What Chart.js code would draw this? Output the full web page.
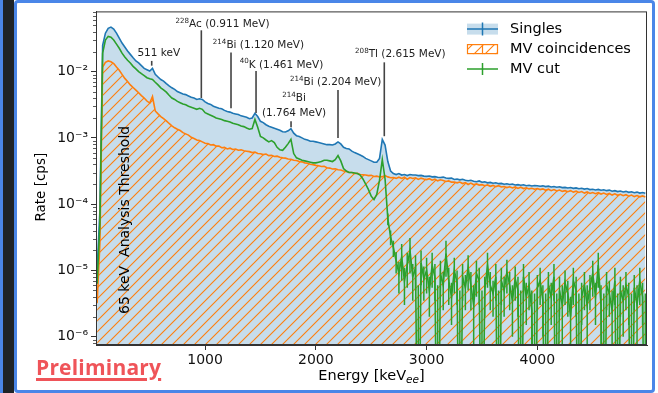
<!DOCTYPE html>
<html>
<head>
<meta charset="utf-8">
<script src="https://cdn.jsdelivr.net/npm/chart.js@4.4.0/dist/chart.umd.min.js"></script>
<style>
  html, body { margin: 0; padding: 0; background: #fff; }
  body { width: 658px; height: 393px; position: relative; overflow: hidden; }
  #edge { position: absolute; left: 0; top: 0; width: 3px; height: 393px; background: #4a86e8; }
  #gutter { position: absolute; left: 3px; top: 0; width: 11px; height: 393px; background: #1e2327; }
  #frame { position: absolute; left: 14px; top: 0; width: 641px; height: 393px; box-sizing: border-box;
           border: 3px solid #4a86e8; border-radius: 4px; background: #fff; }
  #spectrum { position: absolute; left: 0; top: 0; }
  #prelim { position: absolute; left: 36px; top: 353px; font: 700 21px "Open Sans", sans-serif; color: #ef5459;
            text-decoration: underline; text-decoration-thickness: 3px; text-underline-offset: 3px; letter-spacing: 0.2px; }
</style>
</head>
<body>
<div id="edge"></div>
<div id="gutter"></div>
<div id="frame"></div>
<canvas id="spectrum" width="658" height="393"></canvas>
<div id="prelim">Preliminary</div>
<script>
// 25 keV bins, first bin centred at 25 keV
const binWidth = 25;

// rates in cps
const singles = [
  1.0e-5, 7.9e-5, 2.5e-2, 3.8e-2, 4.5e-2, 4.7e-2, 4.4e-2, 3.8e-2, 3.2e-2, 2.7e-2,
  2.35e-2, 2.05e-2, 1.82e-2, 1.62e-2, 1.45e-2, 1.35e-2, 1.23e-2, 1.12e-2, 1.07e-2, 1.02e-2,
  1.12e-2, 9.1e-3, 8.3e-3, 7.6e-3, 7.2e-3, 6.6e-3, 6.1e-3, 5.7e-3, 5.4e-3, 5.0e-3,
  4.8e-3, 4.6e-3, 4.5e-3, 4.3e-3, 4.1e-3, 4.0e-3, 3.8e-3, 3.9e-3, 3.8e-3, 3.5e-3,
  3.3e-3, 3.2e-3, 3.0e-3, 2.9e-3, 2.8e-3, 2.75e-3, 2.6e-3, 2.5e-3, 2.45e-3, 2.35e-3,
  2.3e-3, 2.25e-3, 2.15e-3, 2.1e-3, 2.05e-3, 1.95e-3, 2.0e-3, 2.35e-3, 2.1e-3, 1.78e-3,
  1.7e-3, 1.58e-3, 1.5e-3, 1.45e-3, 1.4e-3, 1.35e-3, 1.3e-3, 1.24e-3, 1.23e-3, 1.28e-3,
  1.38e-3, 1.18e-3, 1.08e-3, 1.05e-3, 1.0e-3, 9.5e-4, 9.3e-4, 8.9e-4, 8.9e-4, 8.7e-4,
  8.5e-4, 8.3e-4, 8.1e-4, 7.9e-4, 7.9e-4, 7.8e-4, 8.1e-4, 8.7e-4, 8.1e-4, 7.2e-4,
  6.9e-4, 6.8e-4, 6.3e-4, 6.0e-4, 5.75e-4, 5.5e-4, 5.25e-4, 4.9e-4, 4.7e-4, 4.5e-4,
  4.3e-4, 4.3e-4, 4.9e-4, 9.5e-4, 7.8e-4, 4.4e-4, 3.16e-4, 2.9e-4, 2.8e-4, 2.9e-4,
  2.75e-4, 2.8e-4, 2.7e-4, 2.8e-4, 2.75e-4, 2.75e-4, 2.7e-4, 2.72e-4, 2.65e-4, 2.63e-4,
  2.66e-4, 2.58e-4, 2.6e-4, 2.55e-4, 2.52e-4, 2.56e-4, 2.48e-4, 2.45e-4, 2.47e-4, 2.36e-4,
  2.4e-4, 2.33e-4, 2.37e-4, 2.3e-4, 2.26e-4, 2.29e-4, 2.22e-4, 2.18e-4, 2.24e-4, 2.14e-4,
  2.17e-4, 2.1e-4, 2.13e-4, 2.07e-4, 2.1e-4, 2.04e-4, 2.06e-4, 2.0e-4, 2.03e-4, 1.98e-4,
  2.01e-4, 1.95e-4, 1.97e-4, 1.93e-4, 1.96e-4, 1.9e-4, 1.93e-4, 1.88e-4, 1.91e-4, 1.9e-4,
  1.86e-4, 1.89e-4, 1.84e-4, 1.87e-4, 1.82e-4, 1.85e-4, 1.8e-4, 1.83e-4, 1.78e-4, 1.79e-4,
  1.75e-4, 1.78e-4, 1.73e-4, 1.76e-4, 1.71e-4, 1.74e-4, 1.69e-4, 1.72e-4, 1.66e-4, 1.68e-4,
  1.64e-4, 1.67e-4, 1.62e-4, 1.65e-4, 1.6e-4, 1.63e-4, 1.57e-4, 1.6e-4, 1.55e-4, 1.58e-4,
  1.53e-4, 1.56e-4, 1.51e-4, 1.54e-4, 1.49e-4, 1.52e-4, 1.47e-4, 1.5e-4, 1.46e-4
];

const mvCoincidences = [
  3.2e-6, 2.5e-5, 1.17e-2, 1.38e-2, 1.45e-2, 1.41e-2, 1.32e-2, 1.17e-2, 1.05e-2, 9.1e-3,
  7.9e-3, 7.1e-3, 6.3e-3, 5.75e-3, 5.25e-3, 4.8e-3, 4.35e-3, 4.0e-3, 3.6e-3, 3.35e-3,
  4.2e-3, 2.55e-3, 2.3e-3, 2.1e-3, 1.95e-3, 1.8e-3, 1.65e-3, 1.52e-3, 1.42e-3, 1.35e-3,
  1.29e-3, 1.2e-3, 1.15e-3, 1.1e-3, 1.02e-3, 9.8e-4, 9.3e-4, 9.1e-4, 8.7e-4, 8.3e-4,
  8.2e-4, 7.8e-4, 7.9e-4, 7.5e-4, 7.5e-4, 7.1e-4, 7.2e-4, 6.8e-4, 7.0e-4, 6.7e-4,
  6.8e-4, 6.5e-4, 6.6e-4, 6.4e-4, 6.3e-4, 6.2e-4, 6.0e-4, 6.1e-4, 5.8e-4, 5.75e-4,
  5.6e-4, 5.7e-4, 5.4e-4, 5.45e-4, 5.25e-4, 5.3e-4, 5.1e-4, 5.0e-4, 4.95e-4, 4.8e-4,
  4.75e-4, 4.6e-4, 4.55e-4, 4.4e-4, 4.35e-4, 4.2e-4, 4.15e-4, 4.0e-4, 3.95e-4, 3.85e-4,
  3.8e-4, 3.7e-4, 3.72e-4, 3.55e-4, 3.5e-4, 3.4e-4, 3.42e-4, 3.3e-4, 3.28e-4, 3.16e-4,
  3.12e-4, 3.0e-4, 3.0e-4, 2.9e-4, 2.92e-4, 2.8e-4, 2.78e-4, 2.75e-4, 2.7e-4, 2.72e-4,
  2.62e-4, 2.65e-4, 2.57e-4, 2.6e-4, 2.7e-4, 2.58e-4, 2.5e-4, 2.52e-4, 2.45e-4, 2.55e-4,
  2.45e-4, 2.55e-4, 2.38e-4, 2.52e-4, 2.44e-4, 2.5e-4, 2.36e-4, 2.47e-4, 2.4e-4, 2.35e-4,
  2.42e-4, 2.3e-4, 2.38e-4, 2.25e-4, 2.33e-4, 2.28e-4, 2.2e-4, 2.24e-4, 2.15e-4, 2.16e-4,
  2.1e-4, 2.16e-4, 2.05e-4, 2.12e-4, 1.98e-4, 2.08e-4, 1.96e-4, 2.02e-4, 1.94e-4, 1.97e-4,
  1.9e-4, 1.95e-4, 1.86e-4, 1.92e-4, 1.84e-4, 1.9e-4, 1.82e-4, 1.85e-4, 1.78e-4, 1.83e-4,
  1.76e-4, 1.82e-4, 1.73e-4, 1.8e-4, 1.72e-4, 1.77e-4, 1.7e-4, 1.74e-4, 1.68e-4, 1.72e-4,
  1.66e-4, 1.7e-4, 1.62e-4, 1.68e-4, 1.6e-4, 1.66e-4, 1.58e-4, 1.63e-4, 1.56e-4, 1.6e-4,
  1.54e-4, 1.6e-4, 1.52e-4, 1.57e-4, 1.5e-4, 1.55e-4, 1.47e-4, 1.53e-4, 1.45e-4, 1.5e-4,
  1.44e-4, 1.49e-4, 1.42e-4, 1.47e-4, 1.4e-4, 1.45e-4, 1.37e-4, 1.43e-4, 1.36e-4, 1.41e-4,
  1.34e-4, 1.39e-4, 1.32e-4, 1.37e-4, 1.3e-4, 1.35e-4, 1.29e-4, 1.33e-4, 1.28e-4
];

// empty bins are 0
const mvCut = [
  6.3e-6, 5.0e-5, 1.9e-2, 3.0e-2, 3.4e-2, 3.3e-2, 3.0e-2, 2.6e-2, 2.25e-2, 1.9e-2,
  1.66e-2, 1.48e-2, 1.35e-2, 1.2e-2, 1.1e-2, 1.0e-2, 9.3e-3, 8.7e-3, 8.1e-3, 7.8e-3,
  7.6e-3, 6.9e-3, 6.3e-3, 5.7e-3, 5.3e-3, 4.9e-3, 4.4e-3, 4.0e-3, 3.8e-3, 3.55e-3,
  3.4e-3, 3.25e-3, 3.16e-3, 3.0e-3, 2.9e-3, 2.8e-3, 2.7e-3, 2.8e-3, 2.7e-3, 2.4e-3,
  2.3e-3, 2.2e-3, 2.1e-3, 2.0e-3, 1.95e-3, 1.9e-3, 1.82e-3, 1.78e-3, 1.74e-3, 1.66e-3,
  1.62e-3, 1.58e-3, 1.51e-3, 1.48e-3, 1.41e-3, 1.35e-3, 1.38e-3, 1.9e-3, 1.45e-3, 1.05e-3,
  1.0e-3, 9.3e-4, 8.7e-4, 9.1e-4, 8.5e-4, 7.2e-4, 6.6e-4, 6.5e-4, 7.2e-4, 8.2e-4,
  9.5e-4, 5.8e-4, 5.0e-4, 4.8e-4, 4.6e-4, 4.5e-4, 4.4e-4, 4.3e-4, 4.2e-4, 4.2e-4,
  4.3e-4, 4.4e-4, 4.6e-4, 4.6e-4, 4.5e-4, 4.4e-4, 4.7e-4, 5.4e-4, 4.5e-4, 3.45e-4,
  3.16e-4, 3.0e-4, 3.0e-4, 2.95e-4, 2.9e-4, 2.75e-4, 2.4e-4, 2.0e-4, 1.66e-4, 1.32e-4,
  1.17e-4, 1.4e-4, 2.3e-4, 4.7e-4, 2.4e-4, 6.0e-5, 3.2e-5, 2.2e-5, 1.4e-5, 9e-6,
  1.6e-5, 7e-6, 1.2e-5, 2.0e-5, 8e-6, 1.1e-5, 0, 1.3e-5, 7.5e-6, 1.0e-5,
  5e-6, 1.2e-5, 8e-6, 0, 9e-6, 6e-6, 1.8e-5, 7e-6, 4e-6, 1.0e-5,
  6.5e-6, 0, 8e-6, 5.5e-6, 1.1e-5, 6e-6, 3e-6, 9e-6, 7e-6, 0,
  5e-6, 1.2e-5, 6e-6, 4.5e-6, 8e-6, 0, 7e-6, 5e-6, 9.5e-6, 6e-6,
  3.5e-6, 7.5e-6, 5e-6, 0, 8e-6, 4e-6, 6e-6, 2.5e-6, 0, 5.5e-6,
  7e-6, 3.5e-6, 0, 6e-6, 4e-6, 8e-6, 0, 5e-6, 3e-6, 6.5e-6,
  4.5e-6, 2e-6, 7e-6, 5e-6, 0, 4e-6, 6e-6, 3e-6, 5.5e-6, 9e-6,
  4e-6, 1.2e-5, 3e-6, 0, 6e-6, 4.5e-6, 2.5e-6, 7e-6, 0, 5e-6,
  3.5e-6, 6e-6, 4e-6, 0, 5.5e-6, 3e-6, 7e-6, 4e-6, 0
];

// statistical errors on the MV cut tail (from the 2650 keV bin on), cps
const mvCutErrFrom = 105;
const mvCutErr = [
  1.2e-5, 8e-6, 6e-6, 5e-6, 4.5e-6,
  9e-6, 4e-6, 6.5e-6, 1.1e-5, 4.5e-6, 6e-6, 6e-6, 7e-6, 4e-6, 5.5e-6,
  3e-6, 6.5e-6, 4.5e-6, 6e-6, 5e-6, 3.5e-6, 1.0e-5, 4e-6, 2.5e-6, 5.5e-6,
  3.5e-6, 5e-6, 4.5e-6, 3e-6, 6e-6, 3.5e-6, 3e-6, 5e-6, 4e-6, 5e-6,
  3e-6, 6.5e-6, 3.5e-6, 2.5e-6, 4.5e-6, 5e-6, 4e-6, 3e-6, 5e-6, 3.5e-6,
  2.5e-6, 4e-6, 3e-6, 5e-6, 4.5e-6, 2.5e-6, 3.5e-6, 2.5e-6, 4.5e-6, 3e-6,
  4e-6, 2.5e-6, 4.5e-6, 3.5e-6, 2.5e-6, 4.5e-6, 4.5e-6, 3e-6, 3e-6, 3.5e-6,
  2.5e-6, 2e-6, 4e-6, 3e-6, 4.5e-6, 2.5e-6, 3.5e-6, 3e-6, 3e-6, 5e-6,
  2.5e-6, 6.5e-6, 3e-6, 4.5e-6, 3.5e-6, 2.5e-6, 2.5e-6, 4e-6, 4.5e-6, 3e-6,
  2.5e-6, 3.5e-6, 2.5e-6, 4.5e-6, 3e-6, 3e-6, 4e-6, 2.5e-6, 4.5e-6
];

const seriesNames = ['Singles', 'MV coincidences', 'MV cut'];
const xTicks = [1000, 2000, 3000, 4000];
const yTicks = [1e-6, 1e-5, 1e-4, 1e-3, 1e-2];

// gamma lines; '^' marks the mass number
const peakLabels = ['511 keV', '^228Ac (0.911 MeV)', '^214Bi (1.120 MeV)', '^40K (1.461 MeV)',
                    '^214Bi\n(1.764 MeV)', '^214Bi (2.204 MeV)', '^208Tl (2.615 MeV)'];
const peakKeV = [518, 966, 1234, 1460, 1776, 2200, 2618];

const energies = singles.map((_, i) => binWidth * (i + 1));

const BLUE = '#1f77b4', ORANGE = '#ff7f0e', GREEN = '#2ca02c';
const FONT = '"DejaVu Sans"';

function hatch(color) {
  const s = 11;
  const c = document.createElement('canvas');
  c.width = s; c.height = s;
  const g = c.getContext('2d');
  g.strokeStyle = color;
  g.lineWidth = 1.1;
  g.beginPath();
  g.moveTo(0, s); g.lineTo(s, 0);
  g.moveTo(-2, 2); g.lineTo(2, -2);
  g.moveTo(s - 2, s + 2); g.lineTo(s + 2, s - 2);
  g.stroke();
  return g.createPattern(c, 'repeat');
}
const orangeHatch = hatch(ORANGE);

function points(values) {
  // empty bins sit under the axis floor so the trace drops out of view
  return values.map((v, i) => ({ x: energies[i], y: v > 0 ? v : 1e-9 }));
}

function superscript(n) {
  const map = { '-': '\u207b', '0': '\u2070', '1': '\u00b9', '2': '\u00b2', '3': '\u00b3',
                '4': '\u2074', '5': '\u2075', '6': '\u2076', '7': '\u2077', '8': '\u2078', '9': '\u2079' };
  return String(n).split('').map(c => map[c]).join('');
}

function drawRich(ctx, text, cx, baseline, size, color) {
  const m = text.match(/^\^(\d+)(.*)$/);
  const parts = m ? [{ t: m[1], sup: true }, { t: m[2] }] : [{ t: text }];
  let total = 0;
  parts.forEach(p => {
    p.size = p.sup ? size * 0.68 : size;
    ctx.font = p.size + 'px ' + FONT;
    p.w = ctx.measureText(p.t).width;
    total += p.w;
  });
  let x = cx - total / 2;
  ctx.fillStyle = color;
  ctx.textAlign = 'left';
  ctx.textBaseline = 'alphabetic';
  parts.forEach(p => {
    ctx.font = p.size + 'px ' + FONT;
    ctx.fillText(p.t, x, p.sup ? baseline - size * 0.4 : baseline);
    x += p.w;
  });
}

// vertical error bars for the MV cut tail
const errorBars = {
  id: 'errorBars',
  afterDatasetsDraw(chart) {
    const { ctx, chartArea: a, scales: { x, y } } = chart;
    ctx.save();
    ctx.beginPath();
    ctx.rect(a.left, a.top, a.right - a.left, a.bottom - a.top);
    ctx.clip();
    ctx.strokeStyle = GREEN;
    ctx.lineWidth = 1.5;
    ctx.beginPath();
    mvCutErr.forEach((e, k) => {
      const i = mvCutErrFrom + k;
      const v = mvCut[i];
      const px = x.getPixelForValue(energies[i]);
      const lo = v - e > 0 ? y.getPixelForValue(v - e) : a.bottom;
      const hi = y.getPixelForValue(v + e);
      ctx.moveTo(px, lo);
      ctx.lineTo(px, hi);
    });
    ctx.stroke();
    ctx.restore();
  }
};

// text centre (keV, cps), pointer top and bottom (cps)
const noteLayout = [
  [582, 2.0e-2, 1.45e-2, 1.23e-2],
  [1157, 5.33e-2, 4.2e-2, 4.0e-3],
  [1482, 2.6e-2, 1.95e-2, 2.8e-3],
  [1690, 1.32e-2, 1.02e-2, 2.37e-3],
  [1803, 4.1e-3, 1.78e-3, 1.45e-3],
  [2179, 7.1e-3, 5.3e-3, 1.0e-3],
  [2763, 1.88e-2, 1.38e-2, 1.06e-3]
];

const decorations = {
  id: 'decorations',
  afterDraw(chart) {
    const { ctx, chartArea: a, scales: { x, y } } = chart;
    ctx.save();

    // frame
    ctx.strokeStyle = '#333';
    ctx.lineWidth = 1;
    ctx.strokeRect(a.left + 0.5, a.top + 0.5, a.right - a.left - 1, a.bottom - a.top - 1);

    // minor log ticks
    ctx.beginPath();
    for (let d = -7; d <= -1; d++) {
      for (let m = 2; m <= 9; m++) {
        const v = m * Math.pow(10, d);
        if (v < y.min || v > y.max) continue;
        const py = Math.round(y.getPixelForValue(v)) + 0.5;
        ctx.moveTo(a.left - 3, py);
        ctx.lineTo(a.left, py);
      }
    }
    ctx.lineWidth = 0.8;
    ctx.stroke();

    // gamma line markers
    ctx.strokeStyle = '#444';
    ctx.lineWidth = 1.6;
    peakLabels.forEach((label, i) => {
      const [tx, ty, top, bottom] = noteLayout[i];
      const px = x.getPixelForValue(peakKeV[i]);
      ctx.beginPath();
      ctx.moveTo(px, y.getPixelForValue(top));
      ctx.lineTo(px, y.getPixelForValue(bottom));
      ctx.stroke();
      const lines = label.split('\n');
      const cx = x.getPixelForValue(tx);
      let base = y.getPixelForValue(ty) + 4;
      lines.forEach(l => {
        drawRich(ctx, l, cx, base, 10.5, '#222');
        base += 14.3;
      });
    });

    // analysis threshold note
    ctx.save();
    ctx.translate(x.getPixelForValue(279), y.getPixelForValue(5.8e-5));
    ctx.rotate(-Math.PI / 2);
    ctx.fillStyle = '#000';
    ctx.font = '14px ' + FONT;
    ctx.textAlign = 'center';
    ctx.textBaseline = 'middle';
    ctx.fillText('65 keV  Analysis Threshold', 0, 0);
    ctx.restore();

    // legend
    const lx = a.right - 180, rowY = [a.top + 17.7, a.top + 37.7, a.top + 57.7];
    const hw = 31, mid = lx + hw / 2;
    // Singles
    ctx.fillStyle = 'rgba(31,119,180,0.25)';
    ctx.fillRect(lx, rowY[0] - 5.5, hw, 11);
    ctx.strokeStyle = BLUE;
    ctx.lineWidth = 1.5;
    ctx.beginPath();
    ctx.moveTo(lx, rowY[0]); ctx.lineTo(lx + hw, rowY[0]);
    ctx.moveTo(mid, rowY[0] - 6.5); ctx.lineTo(mid, rowY[0] + 6.5);
    ctx.stroke();
    // MV coincidences
    ctx.fillStyle = orangeHatch;
    ctx.fillRect(lx, rowY[1] - 5, hw, 10);
    ctx.strokeStyle = ORANGE;
    ctx.lineWidth = 1.2;
    ctx.strokeRect(lx + 0.5, rowY[1] - 4.5, hw - 1, 9);
    ctx.beginPath();
    ctx.moveTo(mid, rowY[1] - 5); ctx.lineTo(mid, rowY[1] + 5);
    ctx.stroke();
    // MV cut
    ctx.strokeStyle = GREEN;
    ctx.lineWidth = 1.5;
    ctx.beginPath();
    ctx.moveTo(lx, rowY[2]); ctx.lineTo(lx + hw, rowY[2]);
    ctx.moveTo(mid, rowY[2] - 6); ctx.lineTo(mid, rowY[2] + 6);
    ctx.stroke();
    ctx.fillStyle = '#000';
    ctx.font = '14.5px ' + FONT;
    ctx.textAlign = 'left';
    ctx.textBaseline = 'middle';
    seriesNames.forEach((n, i) => ctx.fillText(n, lx + 43, rowY[i] + 0.5));

    // axis titles
    ctx.save();
    ctx.translate(41, (a.top + a.bottom) / 2 + 9);
    ctx.rotate(-Math.PI / 2);
    ctx.font = '13.5px ' + FONT;
    ctx.textAlign = 'center';
    ctx.textBaseline = 'middle';
    ctx.fillText('Rate [cps]', 0, 0);
    ctx.restore();

    const parts = [['Energy [keV', 14.5, ''], ['ee', 10.5, 'italic '], [']', 14.5, '']];
    let tw = 0;
    parts.forEach(p => { ctx.font = p[2] + p[1] + 'px ' + FONT; p.w = ctx.measureText(p[0]).width; tw += p.w; });
    let tx = (a.left + a.right) / 2 - tw / 2;
    ctx.textBaseline = 'alphabetic';
    parts.forEach(p => {
      ctx.font = p[2] + p[1] + 'px ' + FONT;
      ctx.fillText(p[0], tx, p[1] < 14 ? a.bottom + 38 : a.bottom + 35);
      tx += p.w;
    });
    ctx.restore();
  }
};

Chart.defaults.font.family = FONT;
Chart.defaults.color = '#000';

new Chart(document.getElementById('spectrum'), {
  type: 'line',
  data: {
    datasets: [
      { label: seriesNames[0], data: points(singles), borderColor: BLUE, borderWidth: 1.6,
        backgroundColor: 'rgba(31,119,180,0.25)', fill: 'start', order: 3 },
      { label: seriesNames[1], data: points(mvCoincidences), borderColor: ORANGE, borderWidth: 1.6,
        backgroundColor: orangeHatch, fill: 'start', order: 2 },
      { label: seriesNames[2], data: points(mvCut), borderColor: GREEN, borderWidth: 1.6,
        fill: false, order: 1 }
    ]
  },
  options: {
    responsive: false,
    animation: false,
    devicePixelRatio: 1,
    elements: { point: { radius: 0 }, line: { tension: 0 } },
    layout: { padding: { left: 0, right: 11, top: 9, bottom: 0 } },
    plugins: { legend: { display: false }, tooltip: { enabled: false } },
    scales: {
      x: {
        type: 'linear', min: 15, max: 4990,
        afterBuildTicks: s => { s.ticks = xTicks.map(v => ({ value: v })); },
        afterFit: s => { s.height = 48; },
        grid: { drawOnChartArea: false, tickLength: 5, color: '#333' },
        border: { color: '#333' },
        ticks: { autoSkip: false, maxRotation: 0, padding: 2, font: { size: 14 }, color: '#111',
                 callback: v => String(v) }
      },
      y: {
        type: 'logarithmic', min: 7.5e-7, max: 0.081,
        afterBuildTicks: s => { s.ticks = yTicks.map(v => ({ value: v })); },
        afterFit: s => { s.width = 96; },
        grid: { drawOnChartArea: false, tickLength: 5, color: '#333' },
        border: { color: '#333' },
        ticks: { autoSkip: false, padding: 3, font: { size: 14 }, color: '#111',
                 callback: v => '10' + superscript(Math.round(Math.log10(v))) }
      }
    }
  },
  plugins: [errorBars, decorations]
});
</script>
</body>
</html>
